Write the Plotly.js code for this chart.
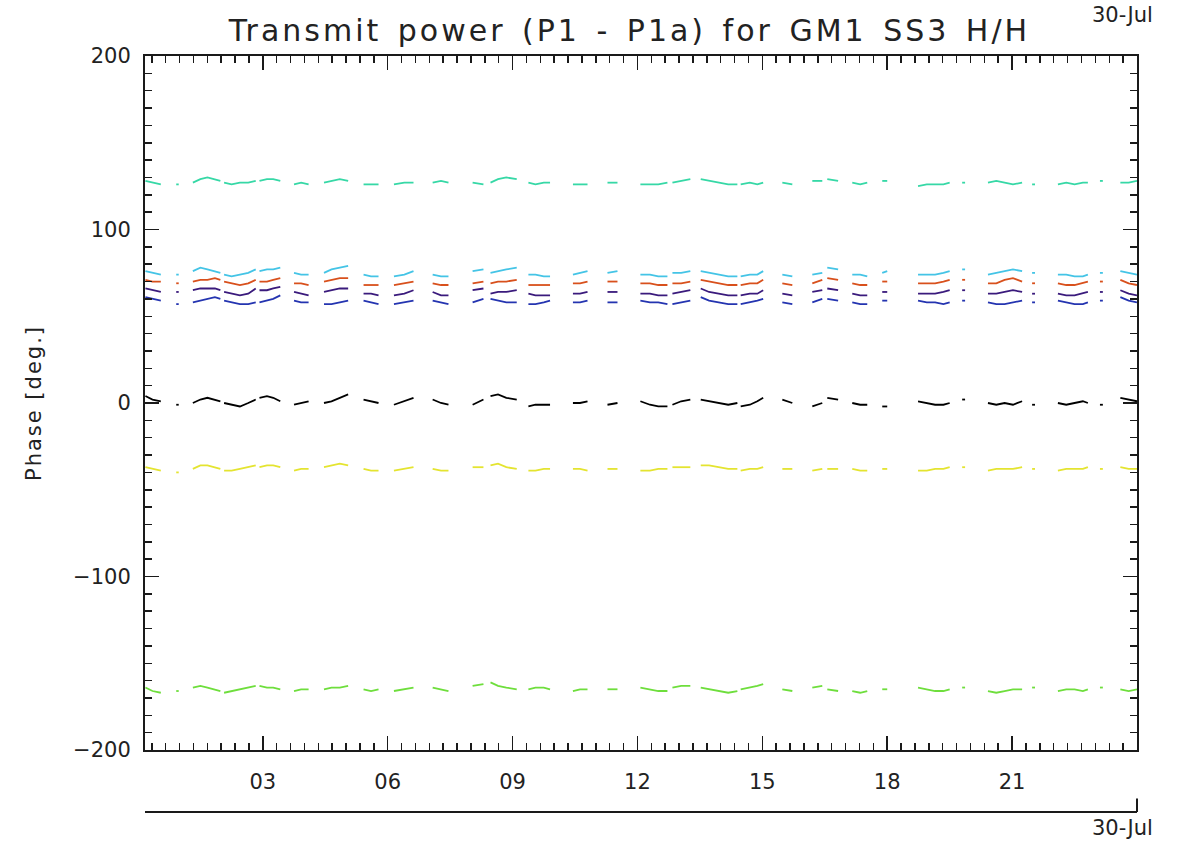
<!DOCTYPE html>
<html>
<head>
<meta charset="utf-8">
<script src="https://cdn.plot.ly/plotly-3.0.1.min.js"></script>
<style>
html,body{margin:0;padding:0;background:#fff;}
#chart{width:1183px;height:843px;}
#chart .gtitle{letter-spacing:3px;word-spacing:4px;}
#chart .ytitle{letter-spacing:2px;}
</style>
</head>
<body>
<div id="chart"></div>
<script>
// Sample times (hours of 30-Jul); null marks a data gap
var times = [
  0.18,0.35,0.55,null,
  0.92,0.98,null,
  1.32,1.5,1.67,1.85,1.98,null,
  2.07,2.25,2.45,2.65,2.83,null,
  2.92,3.1,3.25,3.42,null,
  3.75,3.92,4.1,null,
  4.47,4.65,4.85,5.05,null,
  5.42,5.6,5.78,null,
  6.15,6.4,6.62,null,
  7.08,7.28,7.46,null,
  8.04,8.3,null,
  8.47,8.65,8.85,9.1,null,
  9.38,9.55,9.75,9.9,null,
  10.45,10.62,10.8,null,
  11.28,11.52,null,
  12.07,12.3,12.5,12.72,null,
  12.84,13.05,13.27,null,
  13.52,13.72,13.95,14.18,14.4,null,
  14.48,14.7,14.88,15.02,null,
  15.48,15.72,null,
  16.2,16.44,null,
  16.56,16.82,null,
  17.16,17.35,17.52,null,
  17.88,18.0,null,
  18.74,18.95,19.15,19.35,19.5,null,
  19.8,19.87,null,
  20.42,20.62,20.82,21.02,21.24,null,
  21.48,21.55,null,
  22.1,22.3,22.5,22.7,22.82,null,
  23.11,23.18,null,
  23.6,23.8,24.0
];

// Series values at the non-gap times (segment by segment)
var teal = [128,127,126, 126,126, 127,129,130,129,128, 127,126,127,127,128, 128,129,129,128, 126,127,126,
  127,128,129,128, 126,126,126, 126,127,127, 127,128,127, 127,126, 127,129,130,129, 127,126,127,127,
  126,126,126, 127,127, 126,126,126,127, 127,128,129, 129,128,127,126,126, 126,127,126,127, 127,126,
  128,128, 129,128, 127,126,127, 128,128, 125,126,126,126,127, 127,127, 127,128,127,126,127, 126,126,
  126,127,126,127,127, 128,128, 127,127,128];
var cyan = [76,75,74, 74,74, 76,78,77,76,75, 74,73,74,75,77, 76,77,77,78, 75,74,74,
  75,77,78,79, 74,73,73, 73,74,76, 74,73,73, 76,77, 75,76,77,78, 74,74,73,73,
  74,75,76, 75,76, 74,74,73,73, 75,75,76, 76,75,74,73,73, 73,74,74,76, 74,73,
  74,75, 78,77, 74,74,73, 75,76, 74,74,74,75,76, 77,77, 74,75,76,77,76, 75,75,
  74,74,73,73,74, 75,75, 76,75,74];
var red = [71,70,70, 69,69, 70,71,71,72,71, 70,69,68,69,71, 70,70,71,72, 69,69,68,
  70,71,72,72, 68,68,68, 68,69,70, 69,68,68, 69,70, 69,70,70,71, 68,68,68,68,
  69,69,70, 70,70, 69,69,68,68, 69,69,70, 71,70,69,68,68, 68,69,69,71, 69,68,
  69,71, 72,71, 69,68,68, 70,70, 69,69,69,70,71, 71,71, 69,69,71,72,70, 69,69,
  69,68,68,69,70, 70,70, 71,69,68];
var purple = [66,65,64, 64,64, 65,66,66,66,65, 64,63,62,63,66, 65,65,66,67, 64,63,62,
  64,65,66,66, 63,63,62, 62,63,65, 64,62,62, 65,66, 63,64,64,65, 63,62,62,62,
  63,63,64, 64,64, 63,63,62,62, 63,64,65, 66,64,63,62,62, 62,63,63,65, 63,62,
  64,65, 66,65, 63,62,62, 64,64, 63,63,63,64,65, 65,65, 63,63,64,65,64, 63,63,
  63,62,62,63,64, 64,64, 65,63,62];
var blue = [61,60,59, 57,57, 58,59,60,61,60, 59,58,57,57,58, 58,59,60,62, 59,58,58,
  57,57,58,59, 59,58,57, 57,58,59, 59,58,57, 58,60, 60,59,58,58, 57,57,58,59,
  58,58,59, 58,58, 59,58,58,57, 57,58,59, 61,59,58,57,57, 57,58,59,60, 58,57,
  58,60, 60,59, 58,57,57, 59,59, 59,58,58,57,58, 59,59, 58,57,57,58,59, 58,58,
  59,58,57,57,58, 59,59, 61,59,58];
var black = [4,2,1, -1,-1, 0,2,3,2,1, 0,-1,-2,0,2, 3,4,3,1, -1,0,1,
  0,1,3,5, 2,1,0, -1,1,3, 2,0,-1, -1,2, 4,5,3,2, -2,-1,-1,-1,
  0,0,1, -1,0, 1,-1,-2,-2, -1,1,2, 2,1,0,-1,0, -2,-1,1,3, 2,0,
  -2,0, 3,2, 0,-1,-1, -2,-2, 1,0,-1,-1,0, 2,2, 0,-1,0,-1,1, -1,-1,
  0,-1,0,1,0, -1,-1, 3,2,1];
var yellow = [-37,-38,-39, -40,-40, -38,-36,-36,-37,-38, -39,-39,-38,-37,-36, -37,-36,-36,-37, -39,-38,-38,
  -37,-36,-35,-36, -38,-39,-39, -39,-38,-37, -38,-39,-39, -37,-37, -36,-35,-37,-38, -39,-39,-38,-38,
  -38,-38,-39, -38,-38, -39,-39,-38,-38, -37,-37,-37, -36,-36,-37,-38,-38, -39,-38,-38,-37, -38,-38,
  -39,-38, -38,-38, -38,-39,-39, -38,-38, -39,-39,-38,-38,-37, -37,-37, -39,-38,-38,-38,-37, -38,-38,
  -39,-38,-38,-38,-37, -38,-38, -37,-38,-38];
var green = [-164,-166,-167, -166,-166, -164,-163,-164,-165,-166, -167,-166,-165,-164,-163, -163,-164,-164,-165, -166,-165,-165,
  -165,-164,-164,-163, -165,-166,-165, -166,-165,-164, -164,-165,-166, -163,-162, -161,-163,-164,-165, -165,-164,-164,-165,
  -166,-165,-165, -165,-165, -164,-165,-166,-166, -164,-163,-163, -164,-165,-166,-167,-166, -165,-164,-163,-162, -165,-166,
  -164,-163, -165,-166, -166,-167,-166, -165,-165, -164,-165,-166,-166,-165, -164,-164, -166,-167,-166,-165,-165, -164,-164,
  -166,-165,-165,-166,-165, -164,-164, -165,-166,-165];

var seriesNames = ['teal','cyan','red','purple','blue','black','yellow','green'];
var seriesValues = [teal, cyan, red, purple, blue, black, yellow, green];
var seriesColors = ['#36d8a6','#44c4e6','#d8501c','#3a1a7c','#2434b0','#000000','#e4e430','#6ede3c'];

var tickHours = [3,6,9,12,15,18,21];
var tickLabels = ['03','06','09','12','15','18','21'];
var dateLabel = '30-Jul';

function withGaps(vals){
  var out = [], k = 0;
  for (var i = 0; i < times.length; i++){
    if (times[i] === null) out.push(null); else out.push(vals[k++]);
  }
  return out;
}

var traces = seriesValues.map(function(v, i){
  return {
    x: times, y: withGaps(v), type: 'scatter', mode: 'lines',
    name: seriesNames[i], connectgaps: false,
    line: {color: seriesColors[i], width: 1.8}, hoverinfo: 'skip'
  };
});

var axisColor = '#1a1a1a';
var fnt = {family: 'DejaVu Sans, Liberation Sans, sans-serif', size: 20, color: '#222'};

var layout = {
  width: 1183, height: 843,
  margin: {l: 145, r: 46, t: 56, b: 93},
  paper_bgcolor: '#fff', plot_bgcolor: '#fff',
  showlegend: false,
  font: fnt,
  title: {text: 'Transmit power (P1 - P1a) for GM1 SS3 H/H', xref: 'container', x: 0.532, xanchor: 'center', y: 0.964, yanchor: 'middle',
          font: {family: 'DejaVu Sans, sans-serif', size: 30, color: '#222'}},
  xaxis: {
    range: [0.17, 24.0], showline: true, linecolor: axisColor, linewidth: 2, mirror: 'ticks',
    ticks: 'inside', ticklen: 14, tickwidth: 1.5, tickcolor: axisColor,
    tickmode: 'array', tickvals: tickHours, ticktext: tickLabels,
    showgrid: false, zeroline: false, ticklabelstandoff: 12,
    minor: {dtick: 1/3, tick0: 0, ticks: 'inside', ticklen: 7, tickwidth: 1.5, tickcolor: axisColor, showgrid: false},
    tickfont: {family: fnt.family, size: 21, color: '#222'}, fixedrange: true
  },
  yaxis: {
    range: [-200, 200], showline: true, linecolor: axisColor, linewidth: 2, mirror: 'ticks',
    ticks: 'inside', ticklen: 14, tickwidth: 1.5, tickcolor: axisColor,
    tick0: 0, dtick: 100, showgrid: false, zeroline: false, ticklabelstandoff: 8,
    minor: {dtick: 10, tick0: 0, ticks: 'inside', ticklen: 7, tickwidth: 1.5, tickcolor: axisColor, showgrid: false},
    title: {text: 'Phase [deg.]', standoff: 26, font: {family: fnt.family, size: 21, color: '#222'}},
    tickfont: {family: fnt.family, size: 21, color: '#222'}, fixedrange: true
  },
  shapes: [
    {type: 'line', xref: 'paper', yref: 'paper', x0: 0, x1: 1, y0: -0.0893, y1: -0.0893, line: {color: axisColor, width: 2}},
    {type: 'line', xref: 'paper', yref: 'paper', x0: 1, x1: 1, y0: -0.0893, y1: -0.07, line: {color: axisColor, width: 2}}
  ],
  annotations: [
    {text: dateLabel, xref: 'paper', yref: 'paper', x: 0.9526, y: 1.079, xanchor: 'left', yanchor: 'top', showarrow: false,
     font: {family: fnt.family, size: 21, color: '#222'}},
    {text: dateLabel, xref: 'paper', yref: 'paper', x: 0.9526, y: -0.132, xanchor: 'left', yanchor: 'bottom', showarrow: false,
     font: {family: fnt.family, size: 21, color: '#222'}}
  ]
};

Plotly.newPlot('chart', traces, layout, {displayModeBar: false, staticPlot: true});
</script>
</body>
</html>
